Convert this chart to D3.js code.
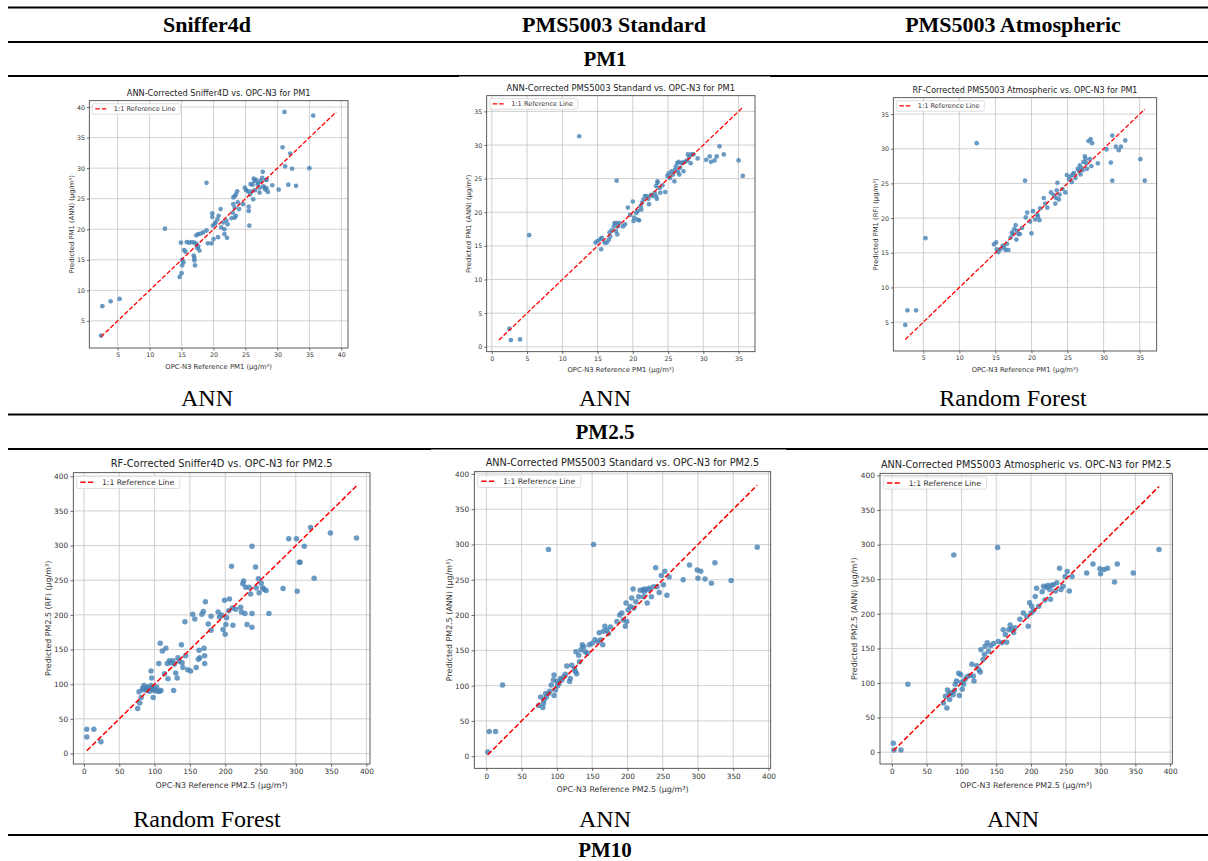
<!DOCTYPE html>
<html>
<head>
<meta charset="utf-8">
<script src="https://cdn.jsdelivr.net/npm/d3@7"></script>
<style>
  body { margin: 0; background: #fff; }
  svg text { font-family: "DejaVu Sans", sans-serif; }
</style>
</head>
<body>
<svg width="1208" height="861"></svg>
<script>
// table text
const sensors = ["Sniffer4d", "PMS5003 Standard", "PMS5003 Atmospheric"];
const pollutants = ["PM1", "PM2.5", "PM10"];
const modelsPM1 = ["ANN", "ANN", "Random Forest"];
const modelsPM25 = ["Random Forest", "ANN", "ANN"];

// chart text
const titles = [
  "ANN-Corrected Sniffer4D vs. OPC-N3 for PM1",
  "ANN-Corrected PMS5003 Standard vs. OPC-N3 for PM1",
  "RF-Corrected PMS5003 Atmospheric vs. OPC-N3 for PM1",
  "RF-Corrected Sniffer4D vs. OPC-N3 for PM2.5",
  "ANN-Corrected PMS5003 Standard vs. OPC-N3 for PM2.5",
  "ANN-Corrected PMS5003 Atmospheric vs. OPC-N3 for PM2.5"
];
const xLabels = ["OPC-N3 Reference PM1 (µg/m³)", "OPC-N3 Reference PM2.5 (µg/m³)"];
const yLabels = [
  "Predicted PM1 (ANN) (µg/m³)",
  "Predicted PM1 (ANN) (µg/m³)",
  "Predicted PM1 (RF) (µg/m³)",
  "Predicted PM2.5 (RF) (µg/m³)",
  "Predicted PM2.5 (ANN) (µg/m³)",
  "Predicted PM2.5 (ANN) (µg/m³)"
];
const legendLabel = "1:1 Reference Line";

// [reference, predicted]
const snifferPM1 = [[2.4,2.6],[2.6,7.4],[3.9,8.2],[5.3,8.6],[12.4,20.1],[14.7,12.2],[15.0,12.8],[15.1,14.1],
  [15.3,14.6],[14.9,17.8],[15.1,15.0],[15.4,16.6],[15.6,16.3],[15.8,17.9],[16.2,17.8],[16.6,17.9],[17.0,17.8],
  [17.3,17.6],[16.9,15.7],[17.0,14.9],[17.1,14.1],[17.0,15.3],[17.3,19.0],[17.6,19.2],[18.0,19.3],[18.4,19.5],
  [17.6,17.2],[17.8,16.5],[17.5,16.9],[18.9,19.8],[18.9,27.6],[19.1,17.7],[19.7,17.7],[20.0,18.4],[19.9,20.6],
  [20.2,20.9],[19.8,22.6],[19.8,22.0],[20.3,21.1],[20.6,21.6],[20.8,22.2],[20.7,18.7],[21.2,20.3],[21.1,23.3],
  [21.5,21.1],[21.7,20.0],[22.0,21.4],[22.2,20.8],[21.7,19.2],[22.1,18.6],[22.8,21.8],[23.0,22.7],[23.3,23.5],
  [23.1,24.1],[23.1,25.2],[23.3,25.4],[23.5,25.7],[23.3,21.9],[23.5,22.2],[23.7,26.2],[23.8,24.4],[24.0,23.3],
  [24.6,24.1],[24.9,26.8],[25.1,26.4],[25.4,26.2],[25.5,23.0],[25.5,23.7],[25.6,20.6],[25.7,25.7],[26.0,26.2],
  [26.2,24.9],[26.1,27.3],[26.4,27.9],[26.7,28.1],[26.9,27.3],[27.2,26.8],[27.2,26.0],[27.4,27.9],[27.6,28.4],
  [27.7,29.4],[27.8,27.0],[28.0,26.8],[28.1,26.5],[28.3,26.7],[28.2,28.1],[28.3,28.1],[28.5,26.1],[29.2,27.2],
  [30.2,26.5],[30.8,33.4],[31.1,39.2],[31.2,30.3],[31.7,27.3],[32.0,32.4],[32.3,29.9],[32.9,27.1],[35.0,30.0],
  [35.6,38.6],[26.5,26.4],[27.0,27.6],[25.8,27.4],[26.3,28.3]];

const standardPM1 = [[2.5,2.7],[2.7,1.0],[4.0,1.1],[5.3,16.6],[12.4,31.3],[17.7,24.7],[14.7,15.5],[15.0,15.7],
  [15.4,16.0],[15.6,16.2],[15.5,14.5],[16.0,15.5],[16.3,15.5],[16.6,15.9],[16.7,17.0],[17.0,17.3],[17.3,17.9],
  [17.4,18.4],[17.7,18.4],[17.9,17.9],[18.1,18.4],[17.6,17.2],[17.8,16.7],[18.6,17.9],[18.9,18.2],[19.3,20.7],
  [20.0,21.6],[20.1,18.7],[20.2,19.2],[20.5,19.9],[20.7,18.9],[20.9,18.8],[20.7,20.2],[21.1,20.9],[21.3,21.4],
  [21.5,21.9],[21.2,20.4],[21.7,22.4],[22.0,22.4],[22.2,22.0],[22.3,21.2],[22.8,22.4],[23.1,22.9],[23.3,22.4],
  [23.3,23.9],[23.5,24.4],[23.5,24.6],[23.8,23.6],[23.4,22.0],[23.9,22.9],[24.6,23.0],[24.9,25.4],[25.3,25.1],
  [25.5,26.1],[25.7,25.6],[25.9,24.6],[26.0,26.3],[26.1,26.8],[26.3,27.3],[26.5,27.5],[26.6,25.6],[26.7,26.6],
  [26.9,27.3],[27.2,26.1],[27.4,27.5],[27.7,27.7],[27.8,28.6],[28.0,28.2],[28.2,27.3],[28.3,28.6],[28.6,28.6],
  [29.2,28.0],[30.4,27.8],[30.9,28.3],[31.1,27.5],[31.6,27.7],[31.9,28.3],[32.3,29.8],[32.9,28.6],[35.0,27.7],
  [35.6,25.4],[16.8,16.4],[19.6,19.6],[24.2,24.0],[25.1,25.8],[26.4,26.0],[27.1,27.4],[22.6,22.6]];

const atmosPM1 = [[2.5,4.6],[2.8,6.7],[4.0,6.7],[5.3,17.1],[12.4,30.8],[19.1,25.4],[14.8,16.2],[15.1,16.5],
  [15.2,15.5],[15.4,15.1],[15.7,15.5],[16.0,16.0],[16.4,15.4],[16.6,16.3],[16.8,15.4],[17.1,17.2],[17.3,17.9],
  [17.4,17.7],[17.6,18.4],[17.8,19.0],[18.0,18.2],[17.9,16.9],[18.2,17.7],[18.4,17.7],[19.4,20.8],[19.2,20.1],
  [19.8,19.5],[20.0,17.8],[20.2,21.0],[20.5,19.8],[20.8,20.5],[21.1,19.7],[20.9,20.2],[21.2,21.4],[21.7,22.9],
  [21.9,22.1],[22.2,21.5],[22.7,23.7],[23.1,23.3],[23.3,22.1],[23.4,22.9],[23.5,24.0],[23.6,25.1],[23.8,22.7],
  [23.9,23.4],[24.7,23.7],[24.9,26.2],[25.2,25.6],[25.4,26.0],[25.6,25.2],[25.9,26.5],[26.1,25.8],[26.4,27.1],
  [26.6,26.8],[26.7,27.6],[26.8,26.3],[27.1,26.9],[27.2,28.1],[27.4,28.9],[27.6,27.9],[27.7,27.1],[27.9,31.1],
  [28.1,28.5],[28.2,31.4],[28.3,27.5],[28.4,30.8],[29.2,27.9],[30.4,29.9],[31.0,28.0],[31.2,31.9],[31.2,25.4],
  [31.7,30.3],[32.1,29.8],[32.4,30.3],[33.0,31.2],[35.1,28.5],[35.7,25.4],[16.2,15.8],[18.7,18.6],[24.3,24.2],
  [25.7,26.3],[26.9,27.2],[27.5,28.5]];

const snifferPM25 = [[4,35],[4,24],[14,35],[24,17],[76,65],[79,73],[78,89],[81,81],[83,94],[85,98],[87,95],
  [89,91],[92,94],[95,98],[97,95],[95,119],[96,109],[98,81],[99,91],[103,96],[104,90],[107,90],[109,91],[106,130],
  [108,159],[111,148],[114,115],[116,152],[118,130],[119,108],[121,134],[123,131],[126,134],[128,129],[127,91],
  [130,116],[132,109],[133,138],[135,133],[138,157],[140,124],[139,131],[143,190],[144,141],[147,121],[151,119],
  [154,201],[157,194],[159,124],[162,136],[163,149],[164,138],[167,201],[169,205],[170,152],[171,141],[171,130],
  [172,219],[176,187],[180,198],[180,178],[190,204],[192,197],[195,200],[197,179],[199,221],[200,172],[201,186],
  [202,196],[205,206],[206,223],[209,270],[210,210],[211,185],[215,208],[222,211],[223,204],[225,245],[226,249],
  [228,202],[229,240],[231,186],[234,240],[236,230],[238,182],[238,202],[238,299],[243,269],[244,239],[247,252],
  [248,232],[251,246],[253,239],[255,237],[258,235],[262,202],[282,238],[290,310],[301,310],[302,234],[305,276],
  [306,276],[312,299],[321,326],[326,253],[349,318],[386,311],[84,92],[90,96],[100,93],[93,90]];

const standardPM25 = [[2,6],[4,35],[13,35],[23,101],[88,293],[152,300],[384,296],[74,72],[77,84],[80,69],[81,75],
  [84,89],[85,84],[88,89],[92,101],[95,108],[96,115],[96,86],[98,94],[100,106],[103,103],[105,110],[107,108],
  [110,113],[112,116],[114,128],[118,106],[119,110],[121,129],[125,124],[126,120],[128,117],[127,148],[131,143],
  [132,134],[134,151],[136,158],[138,155],[140,148],[143,146],[146,158],[150,160],[154,165],[158,162],[160,175],
  [162,165],[165,158],[166,177],[168,184],[171,179],[173,174],[176,183],[185,191],[189,200],[192,203],[194,193],
  [197,184],[198,217],[199,191],[201,207],[204,212],[206,224],[208,237],[209,210],[212,219],[216,226],[218,235],
  [222,236],[223,226],[225,237],[228,217],[231,238],[234,226],[237,240],[240,267],[242,240],[245,232],[248,256],
  [251,243],[253,262],[256,228],[259,254],[279,250],[288,271],[299,264],[300,252],[304,262],[310,251],[319,245],
  [324,274],[347,249],[82,80],[90,92],[101,100],[224,233],[230,236]];

const atmosPM25 = [[2,13],[3,3],[13,3],[23,98],[89,285],[152,296],[384,293],[74,71],[77,81],[79,64],[80,90],
  [83,76],[85,86],[88,83],[91,98],[93,103],[96,114],[97,82],[99,112],[101,91],[103,98],[105,105],[108,109],
  [112,111],[115,127],[117,110],[118,103],[122,125],[125,119],[127,116],[128,148],[131,134],[133,141],[134,153],
  [137,158],[139,146],[142,154],[146,157],[153,160],[158,158],[160,177],[163,170],[165,159],[168,177],[170,184],
  [172,178],[175,173],[177,180],[184,192],[189,201],[194,196],[196,182],[198,216],[200,201],[201,211],[204,205],
  [206,225],[208,237],[211,211],[216,232],[218,240],[220,220],[224,241],[227,235],[228,221],[232,242],[235,233],
  [237,245],[241,266],[243,235],[246,240],[249,254],[252,261],[255,233],[259,254],[280,259],[289,272],[299,265],
  [300,258],[305,264],[310,266],[320,246],[324,272],[347,259],[82,84],[90,89],[100,101],[222,238],[229,241]];

const datasets = [snifferPM1, standardPM1, atmosPM1, snifferPM25, standardPM25, atmosPM25];

const svg = d3.select('svg');

// table rules
const rules = [7.5, 42, 76, 414.5, 449, 835];
svg.selectAll('line.rule').data(rules).join('line')
  .attr('class', 'rule')
  .attr('x1', 8).attr('x2', 1208)
  .attr('y1', d => d).attr('y2', d => d)
  .attr('stroke', '#000').attr('stroke-width', 2);

const colX = [207, 614, 1013];
const serif = '"Liberation Serif", "DejaVu Serif", serif';

svg.selectAll('text.head').data(sensors).join('text')
  .attr('class', 'head')
  .attr('x', (d, i) => colX[i]).attr('y', 32)
  .attr('text-anchor', 'middle')
  .style('font-family', serif).style('font-weight', 'bold').style('font-size', '22px')
  .text(d => d);

const sectionY = [66, 439, 857];
svg.selectAll('text.sec').data(pollutants).join('text')
  .attr('class', 'sec')
  .attr('x', 605).attr('y', (d, i) => sectionY[i])
  .attr('text-anchor', 'middle')
  .style('font-family', serif).style('font-weight', 'bold').style('font-size', '21px')
  .text(d => d);

const modelX = [207, 605, 1013];
[[modelsPM1, 406], [modelsPM25, 827]].forEach(([labels, yy]) => {
  svg.append('g').selectAll('text').data(labels).join('text')
    .attr('x', (d, i) => modelX[i]).attr('y', yy)
    .attr('text-anchor', 'middle')
    .style('font-family', serif).style('font-size', '24px')
    .text(d => d);
});

// chart image frames and axes boxes (page layout)
const panels = [
  {img: [30, 78, 335, 298],  ax: [89.3, 100.7, 348, 348],   s: 1,    tf: 8.2},
  {img: [459, 76.5, 311, 300], ax: [486.7, 95.7, 755, 351.7], s: 1,  tf: 8.4},
  {img: [845, 78, 335, 298], ax: [893.3, 97.7, 1156.7, 351], s: 1,   tf: 8.0},
  {img: [30, 452, 345, 352], ax: [73.3, 472.7, 370, 764],   s: 1.17, tf: 9.9},
  {img: [431, 449.5, 355, 355], ax: [474.3, 471.7, 770.7, 768.3], s: 1.17, tf: 9.7},
  {img: [830, 452, 350, 352], ax: [880, 473.3, 1172.3, 764], s: 1.17, tf: 9.7}
];

panels.forEach((p, i) => drawPanel(p, datasets[i], titles[i], i < 3 ? xLabels[0] : xLabels[1], yLabels[i]));

function drawPanel(p, data, title, xLab, yLab) {
  const [l, t, r, b] = p.ax;
  const s = p.s;
  const g = svg.append('g');

  g.append('rect')
    .attr('x', p.img[0]).attr('y', p.img[1])
    .attr('width', p.img[2]).attr('height', p.img[3])
    .attr('fill', '#fff');

  const vals = data.flat();
  const lo = d3.min(vals), hi = d3.max(vals);
  const pad = (hi - lo) * 0.05;
  const x = d3.scaleLinear().domain([lo - pad, hi + pad]).range([l, r]);
  const y = d3.scaleLinear().domain([lo - pad, hi + pad]).range([b, t]);
  const xt = x.ticks(8), yt = y.ticks(8);

  // grid
  g.append('g').selectAll('line').data(xt).join('line')
    .attr('x1', d => x(d)).attr('x2', d => x(d)).attr('y1', t).attr('y2', b)
    .attr('stroke', '#c4c4c4').attr('stroke-width', 0.8);
  g.append('g').selectAll('line').data(yt).join('line')
    .attr('y1', d => y(d)).attr('y2', d => y(d)).attr('x1', l).attr('x2', r)
    .attr('stroke', '#c4c4c4').attr('stroke-width', 0.8);

  // points
  g.append('g').selectAll('circle').data(data).join('circle')
    .attr('cx', d => x(d[0])).attr('cy', d => y(d[1]))
    .attr('r', 2.35 * s)
    .attr('fill', '#4682b4').attr('fill-opacity', 0.8);

  // 1:1 line
  g.append('line')
    .attr('x1', x(lo)).attr('y1', y(lo)).attr('x2', x(hi)).attr('y2', y(hi))
    .attr('stroke', '#ff0000').attr('stroke-width', 1.3 * s)
    .attr('stroke-dasharray', `${4.5 * s},${2 * s}`);

  // spines
  g.append('rect')
    .attr('x', l).attr('y', t).attr('width', r - l).attr('height', b - t)
    .attr('fill', 'none').attr('stroke', '#333').attr('stroke-width', 0.8);

  const tickFont = 6.3 * s + 'px';
  const xAxis = g.append('g').attr('transform', `translate(0,${b})`)
    .call(d3.axisBottom(x).tickValues(xt).tickSize(2.4 * s).tickSizeOuter(0).tickPadding(2 * s));
  const yAxis = g.append('g').attr('transform', `translate(${l},0)`)
    .call(d3.axisLeft(y).tickValues(yt).tickSize(2.4 * s).tickSizeOuter(0).tickPadding(2 * s));
  [xAxis, yAxis].forEach(a => {
    a.select('.domain').remove();
    a.selectAll('line').attr('stroke', '#333').attr('stroke-width', 0.7);
    a.selectAll('text').style('font-size', tickFont).style('font-family', '"DejaVu Sans", sans-serif').attr('fill', '#333');
  });

  // titles and labels
  g.append('text')
    .attr('x', (l + r) / 2).attr('y', t - 4.8 * s)
    .attr('text-anchor', 'middle').attr('fill', '#222')
    .style('font-size', p.tf + 'px')
    .text(title);

  g.append('text')
    .attr('x', (l + r) / 2).attr('y', b + 20.5 * s)
    .attr('text-anchor', 'middle').attr('fill', '#333')
    .style('font-size', 6.8 * s + 'px')
    .text(xLab);

  const yb = yAxis.node().getBBox();
  g.append('text')
    .attr('transform', `translate(${l + yb.x - 3 * s},${(t + b) / 2}) rotate(-90)`)
    .attr('text-anchor', 'middle').attr('fill', '#333')
    .style('font-size', 6.8 * s + 'px')
    .text(yLab);

  // legend
  const lg = g.append('g').attr('transform', `translate(${l + 3 * s},${t + 3 * s})`);
  lg.append('rect')
    .attr('width', 88 * s).attr('height', 10.5 * s).attr('rx', 1.5)
    .attr('fill', '#fff').attr('fill-opacity', 0.8)
    .attr('stroke', '#d0d0d0').attr('stroke-width', 0.7);
  lg.append('line')
    .attr('x1', 3 * s).attr('x2', 16 * s).attr('y1', 5.25 * s).attr('y2', 5.25 * s)
    .attr('stroke', '#ff0000').attr('stroke-width', 1.3 * s)
    .attr('stroke-dasharray', `${4.5 * s},${2 * s}`);
  lg.append('text')
    .attr('x', 21.5 * s).attr('y', 7.6 * s)
    .attr('fill', '#333')
    .style('font-size', 6.6 * s + 'px')
    .text(legendLabel);
}
</script>
</body>
</html>
